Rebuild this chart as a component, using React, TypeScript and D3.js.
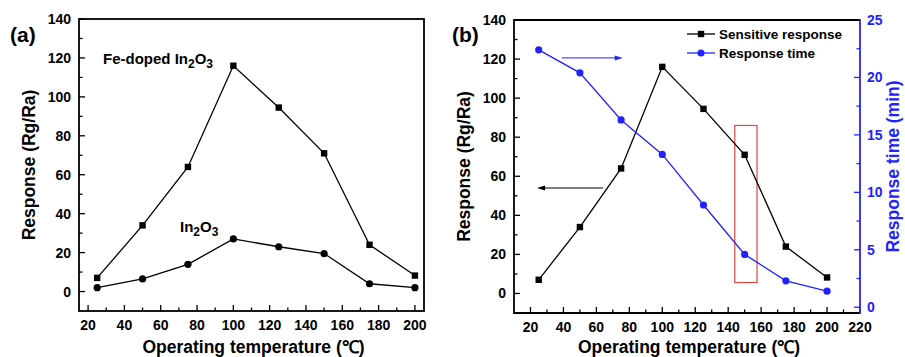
import React from 'react';
import * as d3 from 'd3';

// temperatures (°C)
const temps = [25, 50, 75, 100, 125, 150, 175, 200];
// responses (Rg/Ra)
const feDoped = [7, 34, 64, 116, 94.5, 71, 24, 8.2];
const pureIn2O3 = [2, 6.5, 14, 27, 23, 19.5, 4, 2];
// response time (min)
const responseTime = [22.4, 20.4, 16.3, 13.3, 8.9, 4.6, 2.3, 1.4];

const xTicksA = [20, 40, 60, 80, 100, 120, 140, 160, 180, 200];
const xTicksB = [20, 40, 60, 80, 100, 120, 140, 160, 180, 200, 220];
const yTicksLeft = [0, 20, 40, 60, 80, 100, 120, 140];
const yTicksRight = [0, 5, 10, 15, 20, 25];

const FONT = '"Liberation Sans", Arial, sans-serif';
const BLUE = '#2222ff';
const RED = '#e2463c';

const W = 905;
const H = 357;

type Scale = d3.ScaleLinear<number, number>;

const Series: React.FC<{ x: Scale; y: Scale; ys: number[]; color: string; marker: 'square' | 'circle' }> = ({ x, y, ys, color, marker }) => {
  const line = d3.line<number>().x((_, i) => x(temps[i])).y(d => y(d));
  return (
    <g>
      <path d={line(ys) || ''} fill="none" stroke={color} strokeWidth={1.3} />
      {ys.map((v, i) =>
        marker === 'square' ? (
          <rect key={i} x={x(temps[i]) - 3.2} y={y(v) - 3.2} width={6.4} height={6.4} fill={color} />
        ) : (
          <circle key={i} cx={x(temps[i])} cy={y(v)} r={3.6} fill={color} />
        )
      )}
    </g>
  );
};

const Frame: React.FC<{ x: Scale; y: Scale; xTicks: number[]; yTicks: number[] }> = ({ x, y, xTicks, yTicks }) => {
  const [x0, x1] = x.range();
  const [y0, y1] = y.range(); // y0 bottom, y1 top
  const minorX = xTicks.slice(0, -1).map(t => t + 10).filter(t => x(t) < x1 - 1);
  const minorY = yTicks.slice(0, -1).map(t => t + 10);
  return (
    <g fontFamily={FONT} fontWeight="bold">
      {xTicks.map(t => (
        <g key={'xt' + t}>
          <line x1={x(t)} x2={x(t)} y1={y0} y2={y0 - 6} stroke="#000" strokeWidth={1.3} />
          <text x={x(t)} y={y0 + 19} textAnchor="middle" fontSize={14}>{t}</text>
        </g>
      ))}
      {minorX.map(t => (
        <line key={'xm' + t} x1={x(t)} x2={x(t)} y1={y0} y2={y0 - 3.5} stroke="#000" strokeWidth={1.3} />
      ))}
      {yTicks.map(t => (
        <g key={'yt' + t}>
          <line x1={x0} x2={x0 + 6} y1={y(t)} y2={y(t)} stroke="#000" strokeWidth={1.3} />
          <text x={x0 - 8} y={y(t) + 5} textAnchor="end" fontSize={14}>{t}</text>
        </g>
      ))}
      {minorY.map(t => (
        <line key={'ym' + t} x1={x0} x2={x0 + 3.5} y1={y(t)} y2={y(t)} stroke="#000" strokeWidth={1.3} />
      ))}
      <text x={(x0 + x1) / 2 + 2} y={H - 4} textAnchor="middle" fontSize={17.5}>Operating temperature (℃)</text>
    </g>
  );
};

export default function App() {
  // panel (a)
  const xA = d3.scaleLinear().domain([15, 205]).range([79, 424]);
  const yA = d3.scaleLinear().domain([-10, 140]).range([311, 19]);
  // panel (b)
  const xB = d3.scaleLinear().domain([10, 220]).range([514, 860]);
  const yB = d3.scaleLinear().domain([-10, 140]).range([313, 20]);
  const yR = d3.scaleLinear().domain([-0.5, 25]).range([313, 20]);

  const minorR = yTicksRight.slice(0, -1).map(t => t + 2.5);

  // annotations in data units
  const box = { x0: 144, x1: 157.5, y0: 5.6, y1: 86 };
  const leftArrow = { from: 64, to: 24, y: 54 };
  const rightArrow = { from: 39, to: 76, y: 21.7 };

  return (
    <svg width={W} height={H} style={{ position: 'absolute', left: 0, top: 0, background: '#fff' }}>
      {/* ---------- (a) ---------- */}
      <Frame x={xA} y={yA} xTicks={xTicksA} yTicks={yTicksLeft} />
      <rect x={79} y={19} width={424 - 79} height={311 - 19} fill="none" stroke="#000" strokeWidth={1.8} />
      <Series x={xA} y={yA} ys={feDoped} color="#000" marker="square" />
      <Series x={xA} y={yA} ys={pureIn2O3} color="#000" marker="circle" />
      <g fontFamily={FONT} fontWeight="bold">
        <text x={10} y={42} fontSize={21}>(a)</text>
        <text transform={`translate(35,${(19 + 311) / 2}) rotate(-90)`} textAnchor="middle" fontSize={17.5}>Response (Rg/Ra)</text>
        <text x={103} y={64} fontSize={15}>
          Fe-doped In<tspan fontSize={12} dy={4}>2</tspan><tspan dy={-4}>O</tspan><tspan fontSize={12} dy={4}>3</tspan>
        </text>
        <text x={180} y={232} fontSize={15}>
          In<tspan fontSize={12} dy={4}>2</tspan><tspan dy={-4}>O</tspan><tspan fontSize={12} dy={4}>3</tspan>
        </text>
      </g>

      {/* ---------- (b) ---------- */}
      <Frame x={xB} y={yB} xTicks={xTicksB} yTicks={yTicksLeft} />
      <g fontFamily={FONT} fontWeight="bold" fill={BLUE}>
        {yTicksRight.map(t => (
          <g key={'r' + t}>
            <line x1={860} x2={854} y1={yR(t)} y2={yR(t)} stroke={BLUE} strokeWidth={1.3} />
            <text x={867} y={yR(t) + 5} fontSize={14}>{t}</text>
          </g>
        ))}
        {minorR.map(t => (
          <line key={'rm' + t} x1={860} x2={856.5} y1={yR(t)} y2={yR(t)} stroke={BLUE} strokeWidth={1.3} />
        ))}
        <text transform={`translate(899,${(20 + 313) / 2}) rotate(-90)`} textAnchor="middle" fontSize={17.5}>Response time (min)</text>
      </g>
      <path d="M860,20 H514 V313 H860" fill="none" stroke="#000" strokeWidth={1.8} />
      <line x1={860} x2={860} y1={19} y2={314} stroke={BLUE} strokeWidth={1.8} />
      <rect
        x={xB(box.x0)}
        y={yB(box.y1)}
        width={xB(box.x1) - xB(box.x0)}
        height={yB(box.y0) - yB(box.y1)}
        fill="none"
        stroke={RED}
        strokeWidth={1.2}
      />
      <Series x={xB} y={yB} ys={feDoped} color="#000" marker="square" />
      <Series x={xB} y={yR} ys={responseTime} color={BLUE} marker="circle" />
      {/* arrows */}
      <line x1={xB(leftArrow.from)} x2={xB(leftArrow.to) + 6} y1={yB(leftArrow.y)} y2={yB(leftArrow.y)} stroke="#000" strokeWidth={1} />
      <path
        d={`M${xB(leftArrow.to)},${yB(leftArrow.y)} l8,-2.5 v5 z`}
        fill="#000"
      />
      <line x1={xB(rightArrow.from)} x2={xB(rightArrow.to) - 6} y1={yR(rightArrow.y)} y2={yR(rightArrow.y)} stroke={BLUE} strokeWidth={1} />
      <path
        d={`M${xB(rightArrow.to)},${yR(rightArrow.y)} l-8,-2.5 v5 z`}
        fill={BLUE}
      />
      <g fontFamily={FONT} fontWeight="bold">
        <text x={452} y={42} fontSize={21}>(b)</text>
        <text transform={`translate(470,${(20 + 313) / 2}) rotate(-90)`} textAnchor="middle" fontSize={17.5}>Response (Rg/Ra)</text>
        {/* legend */}
        <line x1={687} x2={715} y1={34} y2={34} stroke="#000" strokeWidth={1.3} />
        <rect x={697.8} y={30.8} width={6.4} height={6.4} fill="#000" />
        <text x={719} y={39} fontSize={13.5}>Sensitive response</text>
        <line x1={687} x2={715} y1={53} y2={53} stroke={BLUE} strokeWidth={1.3} />
        <circle cx={701} cy={53} r={3.6} fill={BLUE} />
        <text x={719} y={58} fontSize={13.5}>Response time</text>
      </g>
    </svg>
  );
}
